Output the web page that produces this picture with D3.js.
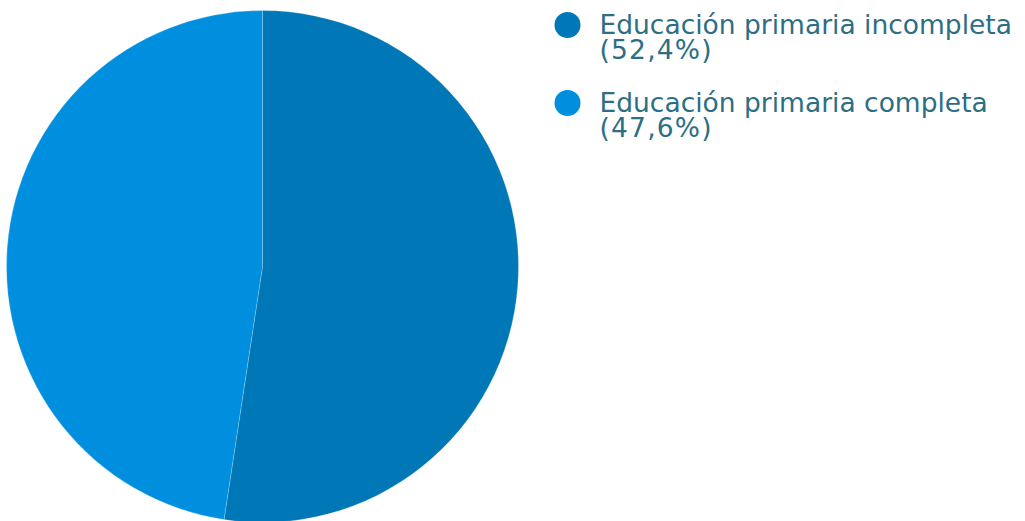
<!DOCTYPE html>
<html>
<head>
<meta charset="utf-8">
<script src="https://cdn.jsdelivr.net/npm/d3@7"></script>
<style>
  html, body { margin: 0; padding: 0; background: #fff; }
  svg { display: block; }
</style>
</head>
<body>
<svg id="chart"></svg>
<script>
// data
const categories = ["Educación primaria incompleta", "Educación primaria completa"];
const values = [52.4, 47.6];
const labels = ["(52,4%)", "(47,6%)"];
const colors = ["#0078b8", "#008fdf"];

const width = 1025, height = 521;
const cx = 262.5, cy = 266.5, radius = 256;

const svg = d3.select("#chart")
  .attr("width", width)
  .attr("height", height);

const pie = d3.pie().sort(null).value(d => d.value);
const arc = d3.arc().innerRadius(0).outerRadius(radius);

const data = categories.map((c, i) => ({ name: c, value: values[i], label: labels[i], color: colors[i] }));

const g = svg.append("g").attr("transform", `translate(${cx},${cy})`);
g.selectAll("path")
  .data(pie(data))
  .join("path")
  .attr("d", arc)
  .attr("fill", d => d.data.color)
  .attr("stroke", "rgba(255,255,255,0.35)")
  .attr("stroke-width", 0.6);

// legend
const legend = svg.append("g").attr("class", "legend");
const rowY = [25, 103];
const item = legend.selectAll("g")
  .data(data)
  .join("g")
  .attr("transform", (d, i) => `translate(567.5,${rowY[i]})`);

item.append("circle")
  .attr("r", 13)
  .attr("fill", d => d.color);

const txt = item.append("text")
  .attr("x", 32)
  .attr("y", 9)
  .style("font-family", "'DejaVu Sans', Verdana, sans-serif")
  .style("font-size", "26.5px")
  .attr("fill", "#2c6f85");
txt.append("tspan").attr("x", 32).text(d => d.name);
txt.append("tspan").attr("x", 32).attr("dy", 25)
  .style("letter-spacing", "1.2px")
  .text(d => d.label);
</script>
</body>
</html>
